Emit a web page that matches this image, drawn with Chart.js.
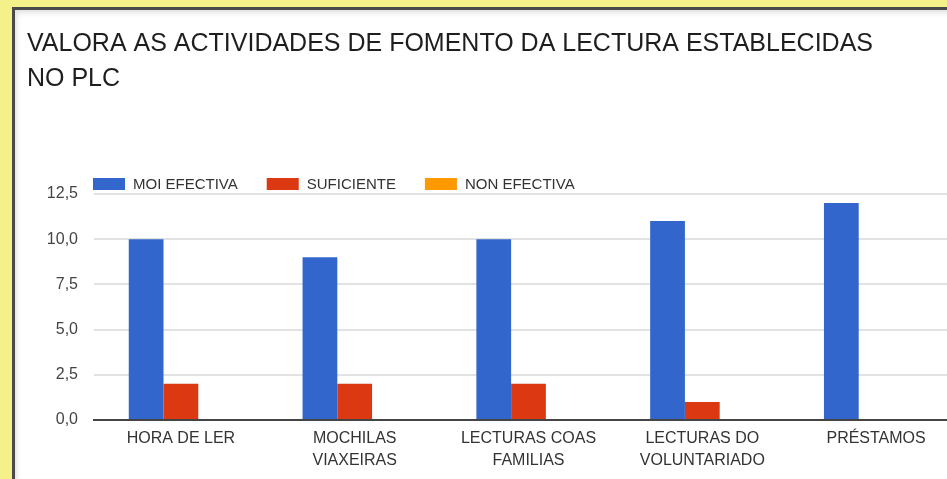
<!DOCTYPE html>
<html>
<head>
<meta charset="utf-8">
<script src="https://cdn.jsdelivr.net/npm/chart.js"></script>
<style>
    body { margin: 0; background: #f5f18a; overflow: hidden; width: 947px; height: 479px; }
    #panel {
        position: absolute; left: 12px; top: 7px; width: 1000px; height: 500px;
        background: #fff; border-left: 3px solid #4a4a4a; border-top: 3px solid #4a4a4a;
        box-shadow: inset 2px 3px 5px rgba(0,0,0,0.12);
    }
    #wrap { position: absolute; left: 0; top: 0; width: 960px; height: 470px; }
</style>
</head>
<body>
<div id="panel">
    <div id="wrap"><canvas id="myChart"></canvas></div>
</div>
<script>
const titleLines = ['VALORA AS ACTIVIDADES DE FOMENTO DA LECTURA ESTABLECIDAS', 'NO PLC'];
const categories = [['HORA DE LER'], ['MOCHILAS', 'VIAXEIRAS'], ['LECTURAS COAS', 'FAMILIAS'], ['LECTURAS DO', 'VOLUNTARIADO'], ['PRÉSTAMOS']];
const seriesNames = ['MOI EFECTIVA', 'SUFICIENTE', 'NON EFECTIVA'];
const moiEfectiva = [10, 9, 10, 11, 12];
const suficiente = [2, 2, 2, 1, 0];
const nonEfectiva = [0, 0, 0, 0, 0];
const yTicks = [0, 2.5, 5, 7.5, 10, 12.5];
let colorHex = ['#3366cc', '#dc3912', '#ff9900'];

const fontFamily = 'Arial, "Liberation Sans", sans-serif';

// legend drawn just above the plot, starting at its left edge
const topLegend = {
    id: 'topLegend',
    afterDraw(chart) {
        let ctx = chart.ctx;
        let x = chart.chartArea.left - 1;
        let y = chart.chartArea.top - 10;
        ctx.save();
        ctx.font = '15px ' + fontFamily;
        ctx.textBaseline = 'middle';
        chart.data.datasets.forEach(function (ds) {
            ctx.fillStyle = ds.backgroundColor;
            ctx.fillRect(x, y - 6, 32, 12);
            ctx.fillStyle = '#333';
            ctx.fillText(ds.label, x + 40, y + 1);
            x += 40 + ctx.measureText(ds.label).width + 29;
        });
        ctx.restore();
    }
};

let ctx = document.getElementById('myChart').getContext('2d');
let myChart = new Chart(ctx, {
    type: 'bar',
    data: {
        labels: categories,
        datasets: [
            { label: seriesNames[0], data: moiEfectiva, backgroundColor: colorHex[0] },
            { label: seriesNames[1], data: suficiente, backgroundColor: colorHex[1] },
            { label: seriesNames[2], data: nonEfectiva, backgroundColor: colorHex[2] }
        ]
    },
    options: {
        responsive: true,
        maintainAspectRatio: false,
        animation: false,
        layout: { padding: { left: 12, right: 12, top: 0, bottom: 0 } },
        datasets: {
            bar: { categoryPercentage: 0.6, barPercentage: 1.0 }
        },
        plugins: {
            legend: { display: false },
            tooltip: { enabled: false },
            title: {
                display: true,
                text: titleLines,
                align: 'start',
                color: '#1e1e1e',
                font: { family: fontFamily, size: 25, weight: 'normal', lineHeight: '35px' },
                padding: { top: 17, bottom: 97 }
            }
        },
        scales: {
            x: {
                grid: { display: false, drawTicks: false },
                border: { color: '#444', width: 2 },
                ticks: {
                    color: '#333',
                    padding: 8,
                    maxRotation: 0,
                    autoSkip: false,
                    font: { family: fontFamily, size: 16, lineHeight: '22px' }
                },
                afterFit: function (scale) { scale.height = 60; }
            },
            y: {
                min: 0,
                max: 12.5,
                border: { display: false },
                grid: {
                    drawTicks: false,
                    lineWidth: 2,
                    color: function (c) { return c.tick && c.tick.value === 0 ? '#444' : '#e2e2e2'; }
                },
                afterBuildTicks: function (scale) {
                    scale.ticks = yTicks.map(function (v) { return { value: v }; });
                },
                ticks: {
                    color: '#444',
                    padding: 16,
                    font: { family: fontFamily, size: 16 },
                    callback: function (value) { return value.toFixed(1).replace('.', ','); }
                },
                afterFit: function (scale) { scale.width = 67; }
            }
        }
    },
    plugins: [topLegend]
});
</script>
</body>
</html>
